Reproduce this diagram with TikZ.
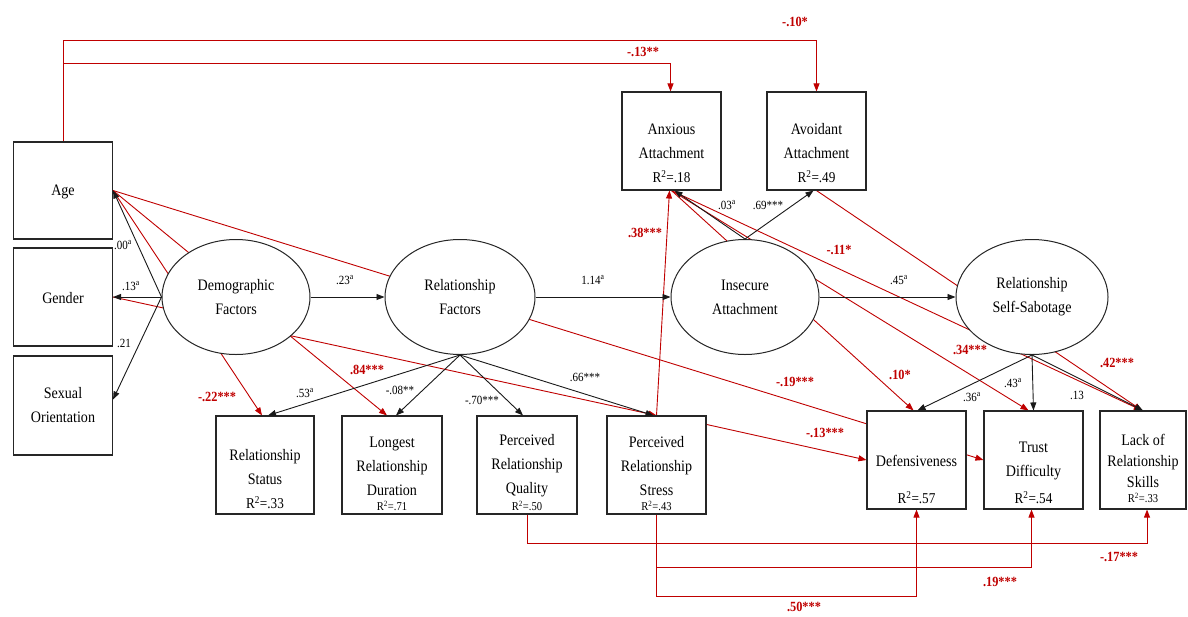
\documentclass[tikz,border=0pt]{standalone}
\usepackage{fontspec}
\setmainfont{Liberation Serif}[FakeStretch=0.88]
\usetikzlibrary{arrows.meta,calc,shapes.geometric}
\definecolor{pathred}{RGB}{192,0,0}
\pgfdeclarelayer{paper}
\pgfdeclarelayer{behind}
\pgfsetlayers{paper,behind,main}

\begin{document}
\begin{tikzpicture}[x=1pt,y=-1pt,
  box/.style={draw=black!85,line width=1.1pt,fill=white,minimum width=99pt,minimum height=98pt,inner sep=0pt},
  latent/.style={ellipse,draw=black!85,line width=1pt,fill=white,inner sep=0pt,
    minimum width=148pt,minimum height=115pt,align=center,font=\fontsize{16}{24}\selectfont},
  txt/.style={font=\fontsize{16}{24}\selectfont,align=center,inner sep=0pt},
  rsq/.style={font=\fontsize{15}{18}\selectfont,inner sep=0pt},
  rsqs/.style={font=\fontsize{12}{14}\selectfont,inner sep=0pt},
  coef/.style={font=\fontsize{12.5}{14}\selectfont,inner sep=0pt},
  sig/.style={font=\bfseries\fontsize{14}{16}\selectfont,text=pathred,inner sep=0pt},
  load/.style={draw=black!90,line width=0.9pt,-{Triangle[length=8pt,width=6pt]}},
  effect/.style={draw=pathred,line width=0.9pt,-{Triangle[length=8pt,width=6pt]}},
]
\begin{pgfonlayer}{paper}
  \fill[white] (0,0) rectangle (1188,616);
\end{pgfonlayer}
\useasboundingbox (0,0) rectangle (1188,616);

% demographic indicators
\node[box,minimum height=97pt] (age) at (63,190.5) {};
\node[txt] (age-t) at (63,192) {Age};
\node[box] (gender) at (63,297) {};
\node[txt] (gender-t) at (63,298) {Gender};
\node[box,minimum height=99pt] (sexor) at (63,405.5) {};
\node[txt] (sexor-t) at (63,405) {Sexual\\Orientation};

% attachment indicators
\node[box] (anx) at (671.5,141) {};
\node[txt] (anx-t) at (671.5,141.5) {Anxious\\Attachment};
\node[rsq] (anx-r) at (671.5,177) {R\textsuperscript{2}=.18};
\node[box] (avoid) at (816.5,141) {};
\node[txt] (avoid-t) at (816.5,141.5) {Avoidant\\Attachment};
\node[rsq] (avoid-r) at (816.5,177) {R\textsuperscript{2}=.49};

% relationship indicators
\node[box,minimum width=98pt] (relstat) at (265,465) {};
\node[txt] (relstat-t) at (265,467) {Relationship\\Status};
\node[rsq] (relstat-r) at (265,503) {R\textsuperscript{2}=.33};
\node[box,minimum width=100pt] (longest) at (392,465) {};
\node[txt] (longest-t) at (392,466) {Longest\\Relationship\\Duration};
\node[rsqs] (longest-r) at (392,506) {R\textsuperscript{2}=.71};
\node[box,minimum width=100pt] (quality) at (527,465) {};
\node[txt] (quality-t) at (527,466) {Perceived\\Relationship\\Quality};
\node[rsqs] (quality-r) at (527,506) {R\textsuperscript{2}=.50};
\node[box] (stress) at (656.5,465) {};
\node[txt] (stress-t) at (656.5,466) {Perceived\\Relationship\\Stress};
\node[rsqs] (stress-r) at (656.5,506) {R\textsuperscript{2}=.43};

% self-sabotage indicators
\node[box] (defens) at (916.5,460) {};
\node[txt] (defens-t) at (916.5,461) {Defensiveness};
\node[rsq] (defens-r) at (916.5,498) {R\textsuperscript{2}=.57};
\node[box] (trust) at (1033.5,460) {};
\node[txt] (trust-t) at (1033.5,461) {Trust\\Difficulty};
\node[rsq] (trust-r) at (1033.5,498) {R\textsuperscript{2}=.54};
\node[box,minimum width=86pt] (lack) at (1143,460) {};
\node[txt,font=\fontsize{16}{21}\selectfont] (lack-t) at (1143,461) {Lack of\\Relationship\\Skills};
\node[rsqs] (lack-r) at (1143,498) {R\textsuperscript{2}=.33};

% latent factors
\node[latent] (demo) at (236,297) {Demographic\\Factors};
\node[latent,minimum width=150pt] (relf) at (460,297) {Relationship\\Factors};
\node[latent] (insec) at (745,297) {Insecure\\Attachment};
\node[latent,minimum width=152pt] (ssab) at (1032,297) {Relationship\\Self-Sabotage};

% direct effects (drawn underneath the shapes they cross)
\begin{pgfonlayer}{behind}
  \draw[effect] (age.north) -- (age.north |- 0,40) -| (avoid.north);
  \draw[effect] (age.north |- 0,63) -| ([xshift=-1pt]anx.north);
  \draw[effect] (age.east) -- ([xshift=-3pt]relstat.north);
  \draw[effect] (age.east) -- ([xshift=-5pt]longest.north);
  \draw[effect] (age.east) -- (trust.west);
  \draw[effect] (gender.east) -- (stress.north);
  \draw[effect] (stress.north) -- ([xshift=-2pt]anx.south);
  \draw[effect] (anx.south) -- ([xshift=-3pt]defens.north);
  \draw[effect] (anx.south) -- ([xshift=-5pt]trust.north);
  \draw[effect] (anx.south) -- ([xshift=-1pt]lack.north);
  \draw[effect] (avoid.south) -- ([xshift=-1pt]lack.north);
  \draw[effect] ([yshift=-9pt]stress.north east) -- (defens.west);
  \draw[effect] (quality.south) -- (quality.south |- 0,543) -| ([xshift=4pt]lack.south);
  \draw[effect] (stress.south) -- (stress.south |- 0,567) -| ([xshift=-2pt]trust.south);
  \draw[effect] (stress.south) -- (stress.south |- 0,596) -| (defens.south);
\end{pgfonlayer}

% measurement and structural paths
\draw[load] (demo.west) -- (age.east);
\draw[load] (demo.west) -- (gender.east);
\draw[load] (demo.west) -- ([yshift=6pt]sexor.east);
\draw[load] (demo.east) -- (relf.west);
\draw[load] (relf.east) -- (insec.west);
\draw[load] (insec.east) -- (ssab.west);
\draw[load] (relf.south) -- ([xshift=3pt]relstat.north);
\draw[load] (relf.south) -- ([xshift=4pt]longest.north);
\draw[load] (relf.south) -- ([xshift=-4pt]quality.north);
\draw[load] (relf.south) -- ([xshift=-3pt]stress.north);
\draw[load] (insec.north) -- ([xshift=3pt]anx.south);
\draw[load] (insec.north) -- ([xshift=-3pt]avoid.south);
\draw[load] (ssab.south) -- ([xshift=1pt]defens.north);
\draw[load] (ssab.south) -- (trust.north);
\draw[load] (ssab.south) -- (lack.north);

% loadings and path coefficients
\node[coef] (c-age) at (123,245) {.00\textsuperscript{a}};
\node[coef] (c-gen) at (131,286) {.13\textsuperscript{a}};
\node[coef] (c-sex) at (124,343) {.21};
\node[coef] (c-drf) at (345,280) {.23\textsuperscript{a}};
\node[coef] (c-ria) at (593,280) {1.14\textsuperscript{a}};
\node[coef] (c-rs) at (305,393) {.53\textsuperscript{a}};
\node[coef] (c-lr) at (400,390) {-.08**};
\node[coef] (c-pq) at (482,400) {-.70***};
\node[coef] (c-ps) at (585,377) {.66***};
\node[coef] (c-anx) at (727,205) {.03\textsuperscript{a}};
\node[coef] (c-avo) at (768,205) {.69***};
\node[coef] (c-iss) at (899,280) {.45\textsuperscript{a}};
\node[coef] (c-def) at (972,397) {.36\textsuperscript{a}};
\node[coef] (c-tru) at (1013,383) {.43\textsuperscript{a}};
\node[coef] (c-lac) at (1077,395) {.13};

% significant direct effects
\node[sig] (s-avo) at (795,22) {-.10*};
\node[sig] (s-anx) at (643,52) {-.13**};
\node[sig] (s-str) at (645,233) {.38***};
\node[sig] (s-lac1) at (839,250) {-.11*};
\node[sig] (s-tru1) at (970,350) {.34***};
\node[sig] (s-lac2) at (1117,363) {.42***};
\node[sig] (s-def1) at (900,375) {.10*};
\node[sig] (s-tru2) at (795,382) {-.19***};
\node[sig] (s-def2) at (825,433) {-.13***};
\node[sig] (s-rs) at (217,397) {-.22***};
\node[sig] (s-lr) at (367,370) {.84***};
\node[sig] (s-lac3) at (1119,557) {-.17***};
\node[sig] (s-tru3) at (1000,582) {.19***};
\node[sig] (s-def3) at (804,607) {.50***};
\end{tikzpicture}
\end{document}
